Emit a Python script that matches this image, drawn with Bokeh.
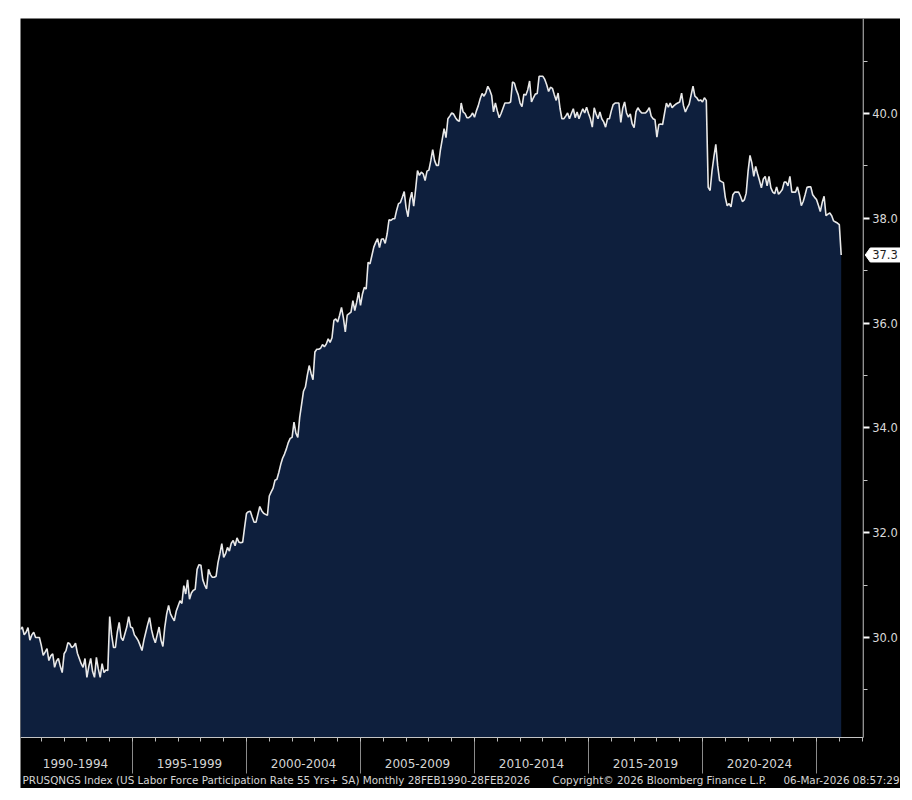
from bokeh.plotting import figure
from bokeh.models import Range1d, FixedTicker, LinearAxis, PrintfTickFormatter
from bokeh.core.properties import value
from bokeh.embed import file_html
from bokeh.resources import INLINE
import numpy as np

# ---- data: monthly values, Feb 1990 .. Feb 2026 (US LFPR 55 Yrs+ SA) ----
v1990 = [30.15, 30.20, 30.05, 30.10, 30.19, 29.95, 30.05, 30.10, 30.00, 30.00, 30.00]
v1991 = [29.85, 29.66, 29.72, 29.79, 29.56, 29.65, 29.69, 29.43, 29.55, 29.60, 29.45, 29.33]
v1992 = [29.69, 29.75, 29.90, 29.88, 29.81, 29.83, 29.89, 29.70, 29.60, 29.50, 29.43, 29.60]
v1993 = [29.24, 29.45, 29.60, 29.35, 29.24, 29.62, 29.40, 29.24, 29.50, 29.33, 29.38, 29.37]
v1994 = [30.40, 30.05, 29.81, 29.81, 30.10, 30.29, 30.00, 29.94, 30.07, 30.20, 30.40, 30.20]
v1995 = [30.18, 30.05, 30.00, 29.94, 29.85, 29.75, 29.95, 30.10, 30.25, 30.38, 30.15, 30.00]
v1996 = [29.90, 30.05, 30.20, 29.95, 29.83, 30.20, 30.45, 30.61, 30.45, 30.38, 30.32, 30.50]
v1997 = [30.60, 30.70, 30.65, 30.99, 30.83, 31.10, 30.73, 30.85, 30.90, 30.92, 31.30, 31.39]
v1998 = [31.38, 31.10, 31.00, 30.93, 31.30, 31.20, 31.15, 31.15, 31.17, 31.43, 31.60, 31.79]
v1999 = [31.53, 31.60, 31.72, 31.65, 31.80, 31.85, 31.75, 31.90, 31.82, 31.81, 31.82, 32.10]
v2000 = [32.37, 32.40, 32.41, 32.30, 32.20, 32.20, 32.35, 32.50, 32.42, 32.37, 32.35, 32.33]
v2001 = [32.70, 32.78, 32.85, 33.00, 33.02, 33.15, 33.30, 33.42, 33.50, 33.60, 33.72, 33.80]
v2002 = [33.82, 34.11, 33.90, 33.82, 34.20, 34.45, 34.70, 34.78, 35.00, 35.19, 35.04, 34.92]
v2003 = [35.45, 35.50, 35.50, 35.52, 35.59, 35.55, 35.60, 35.70, 35.63, 35.72, 36.05, 36.08]
v2004 = [36.02, 36.15, 36.30, 36.10, 35.83, 36.15, 36.18, 36.21, 36.43, 36.24, 36.40, 36.59]
v2005 = [36.34, 36.55, 36.68, 36.65, 37.16, 37.13, 37.29, 37.45, 37.54, 37.61, 37.44, 37.60]
v2006 = [37.61, 37.52, 37.70, 37.97, 37.96, 37.99, 37.99, 38.15, 38.28, 38.30, 38.40, 38.51]
v2007 = [38.20, 38.03, 38.35, 38.50, 38.23, 38.55, 38.91, 38.82, 38.88, 38.85, 38.72, 38.90]
v2008 = [38.92, 39.10, 39.31, 39.10, 39.01, 39.01, 39.29, 39.50, 39.71, 39.54, 39.90, 39.95]
v2009 = [40.01, 39.99, 39.92, 39.87, 39.85, 40.20, 40.03, 40.00, 39.92, 39.92, 39.95, 40.01]
v2010 = [39.93, 40.05, 40.15, 40.28, 40.38, 40.33, 40.40, 40.52, 40.45, 40.35, 40.03, 40.20]
v2011 = [40.05, 39.92, 40.00, 40.10, 40.20, 40.20, 40.20, 40.22, 40.60, 40.58, 40.45, 40.36]
v2012 = [40.20, 40.13, 40.37, 40.35, 40.45, 40.62, 40.22, 40.30, 40.37, 40.38, 40.71, 40.71]
v2013 = [40.71, 40.65, 40.55, 40.42, 40.50, 40.48, 40.36, 40.25, 40.39, 40.10, 39.90, 39.90]
v2014 = [39.95, 40.01, 39.90, 40.00, 40.09, 39.92, 40.03, 39.90, 40.00, 40.09, 40.01, 40.12]
v2015 = [40.00, 39.90, 39.74, 40.11, 39.99, 39.90, 40.03, 39.90, 39.84, 39.74, 39.90, 39.90]
v2016 = [40.05, 40.17, 40.20, 40.20, 40.20, 39.83, 40.10, 40.22, 40.01, 39.93, 39.99, 39.80]
v2017 = [39.73, 40.03, 40.11, 40.05, 40.01, 40.01, 40.01, 40.05, 40.11, 39.95, 39.90, 39.88]
v2018 = [39.55, 39.79, 39.80, 39.79, 40.00, 40.20, 40.12, 40.20, 40.11, 40.15, 40.18, 40.20]
v2019 = [40.22, 40.39, 40.15, 40.03, 40.11, 40.18, 40.35, 40.52, 40.33, 40.30, 40.24, 40.26]
v2020 = [40.22, 40.30, 40.25, 38.59, 38.53, 38.90, 39.17, 39.41, 39.00, 38.72, 38.70, 38.68]
v2021 = [38.40, 38.24, 38.28, 38.22, 38.45, 38.50, 38.50, 38.50, 38.42, 38.32, 38.35, 38.48]
v2022 = [38.90, 39.20, 39.05, 38.80, 38.99, 38.85, 38.72, 38.58, 38.75, 38.80, 38.62, 38.80]
v2023 = [38.58, 38.50, 38.47, 38.60, 38.46, 38.50, 38.55, 38.69, 38.69, 38.62, 38.80, 38.50]
v2024 = [38.50, 38.50, 38.60, 38.45, 38.24, 38.32, 38.45, 38.59, 38.60, 38.60, 38.45, 38.40]
v2025 = [38.36, 38.25, 38.13, 38.30, 38.42, 38.05, 38.08, 38.10, 38.05, 37.95, 37.93, 37.91]
v2026 = [37.88, 37.30]

first_year = 1990
first_month = 2  # February

period_labels = ["1990-1994", "1995-1999", "2000-2004", "2005-2009",
                 "2010-2014", "2015-2019", "2020-2024"]
period_starts = [1990, 1995, 2000, 2005, 2010, 2015, 2020]
separator_years = [1995, 2000, 2005, 2010, 2015, 2020, 2025]
year_ticks = list(range(1991, 2028))
y_major = [30, 32, 34, 36, 38, 40]
y_minor = [29, 31, 33, 35, 37, 39, 41]
footer_left = "PRUSQNGS Index (US Labor Force Participation Rate 55 Yrs+ SA) Monthly 28FEB1990-28FEB2026"
footer_mid = "Copyright\u00a9 2026 Bloomberg Finance L.P."
footer_right = "06-Mar-2026 08:57:29"

series = (v1990 + v1991 + v1992 + v1993 + v1994 + v1995 + v1996 + v1997 + v1998 +
          v1999 + v2000 + v2001 + v2002 + v2003 + v2004 + v2005 + v2006 + v2007 +
          v2008 + v2009 + v2010 + v2011 + v2012 + v2013 + v2014 + v2015 + v2016 +
          v2017 + v2018 + v2019 + v2020 + v2021 + v2022 + v2023 + v2024 + v2025 + v2026)
months = np.arange(len(series)) + (first_month - 1)
xs = first_year + months / 12.0

# ---- geometry (the frame fills the whole black panel) ----
W, H = 880, 770
PX_X = 22.8          # pixels per year
PX_Y = 52.4          # pixels per percentage point
X0 = 1990 + 2 / PX_X                 # left edge of panel
X1 = X0 + W / PX_X                   # right edge of panel
Y1 = 40 + 95 / PX_Y                  # top edge of panel
Y0 = Y1 - H / PX_Y                   # bottom edge of panel
BASE = 30 - 100 / PX_Y               # level of the time axis
AXIS_X = 2027.05                     # position of the value axis

def dx(px):
    return px / PX_X

def dy(px):
    return px / PX_Y

p = figure(width=W, height=H, x_range=Range1d(X0, X1), y_range=Range1d(Y0, Y1),
           output_backend="svg", toolbar_location=None,
           x_axis_location=None, y_axis_location=None,
           min_border_left=0, min_border_top=0, min_border_right=0, min_border_bottom=0,
           background_fill_color="black", border_fill_color="black",
           outline_line_color=None, margin=(18, 0, 0, 20))
p.grid.visible = False

# area + line
p.varea(x=xs, y1=BASE, y2=series, fill_color="#0e1f3d")
p.line(xs, series, line_color="#e8e8e8", line_width=1.6)

# 5-year separators below the time axis
p.segment(x0=separator_years, y0=[BASE] * len(separator_years),
          x1=separator_years, y1=[BASE - dy(36)] * len(separator_years),
          line_color="#8a8a8a", line_width=1)

# axis lines (time axis and value axis meet at the corner)
p.segment(x0=[X0, AXIS_X], y0=[BASE, BASE], x1=[AXIS_X, AXIS_X], y1=[BASE, Y1],
          line_color="#c4c4c4", line_width=1)

# time axis: yearly ticks and period labels
xl = LinearAxis(fixed_location=BASE)
centers = [s + 2.5 for s in period_starts]
xl.ticker = FixedTicker(ticks=centers, minor_ticks=year_ticks)
xl.major_label_overrides = {c: t for c, t in zip(centers, period_labels)}
xl.axis_line_color = None
xl.major_tick_line_color = None
xl.major_tick_out = 0
xl.major_tick_in = 0
xl.minor_tick_out = 4
xl.minor_tick_in = 0
xl.minor_tick_line_color = "#bcbcbc"
xl.major_label_standoff = 17
xl.major_label_text_font = "DejaVu Sans"
xl.major_label_text_font_size = "12px"
xl.major_label_text_color = "#d4d4d4"
p.add_layout(xl, "below")

# value axis on the right
ya = LinearAxis(fixed_location=AXIS_X)
ya.ticker = FixedTicker(ticks=y_major, minor_ticks=y_minor)
ya.formatter = PrintfTickFormatter(format="%.1f")
ya.axis_line_color = None
ya.major_tick_out = 6
ya.major_tick_in = 0
ya.major_tick_line_width = 2
ya.major_tick_line_color = "white"
ya.minor_tick_out = 4
ya.minor_tick_in = 0
ya.minor_tick_line_color = "#c4c4c4"
ya.major_label_standoff = 3
ya.major_label_text_font = "DejaVu Sans"
ya.major_label_text_font_size = "11.5px"
ya.major_label_text_color = "#dadada"
p.add_layout(ya, "right")

# last value tag
last = series[-1]
tag_x = [AXIS_X + dx(2), AXIS_X + dx(7), AXIS_X + dx(37), AXIS_X + dx(37), AXIS_X + dx(7)]
tag_y = [last, last + dy(7), last + dy(7), last - dy(7), last - dy(7)]
p.patch(tag_x, tag_y, fill_color="white", line_color="white")
p.text(x=[AXIS_X + dx(9)], y=[last], text=[f"{last:.1f}"], text_align="left",
       text_baseline="middle", text_font=value("DejaVu Sans"), text_font_size="11.5px",
       text_color="#1e1e1e")

# footer line
foot_y = BASE - dy(42)
p.text(x=[X0 + dx(2), X0 + dx(532)], y=[foot_y, foot_y], text=[footer_left, footer_mid],
       text_align="left", text_baseline="middle", text_font=value("DejaVu Sans"),
       text_font_size="10.4px", text_color="#d4d4d4")
p.text(x=[X0 + dx(879)], y=[foot_y], text=[footer_right],
       text_align="right", text_baseline="middle", text_font=value("DejaVu Sans"),
       text_font_size="10.4px", text_color="#d4d4d4")

open("out.html", "w").write(file_html(p, INLINE))
